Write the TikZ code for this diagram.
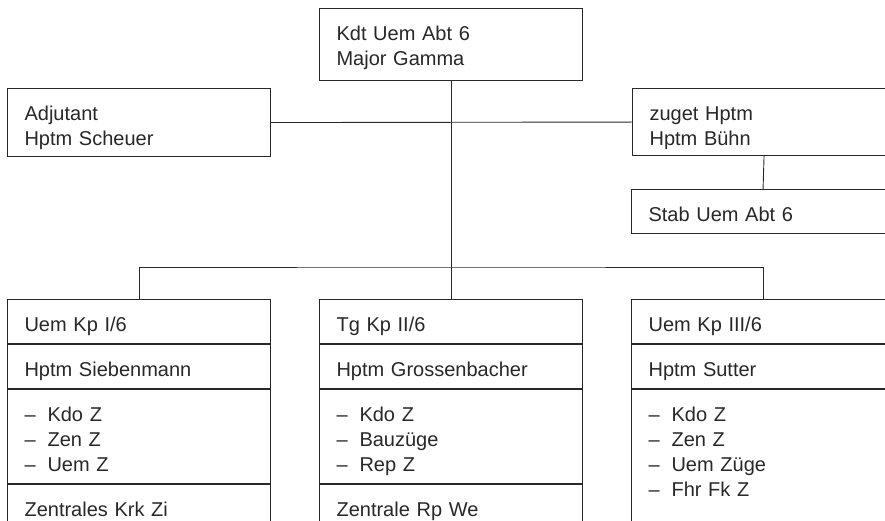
\documentclass[tikz,border=0pt]{standalone}
\usepackage{fontspec}
\setmainfont{Liberation Sans}
\usepackage{tikz}
\usetikzlibrary{positioning}
\definecolor{LineColor}{RGB}{40,40,40}
\newcommand{\dashitem}[1]{\makebox[23pt][l]{--}#1}
\tikzset{
  box/.style={rectangle, draw=LineColor, line width=1.1pt, text=LineColor, text width=229pt, inner xsep=17pt, inner ysep=0pt, text height=32pt, align=left, font=\fontsize{20}{25}\selectfont},
  row/.style={box, text depth=#1},
  row/.default=12pt,
  link/.style={draw=LineColor, line width=0.9pt}
}

\begin{document}
\begin{tikzpicture}[x=1pt, y=-1pt]
  \useasboundingbox (0,0) rectangle (885,521);
  \fill[white] (0,0) rectangle (885,521);
  \clip (0,0) rectangle (885,521);

  % Commander and staff
  \node[row=40pt, anchor=north west] (kdt) at (319,8) {Kdt Uem Abt 6\\Major Gamma};
  \node[row=36pt, anchor=north west] (adj) at (7,88) {Adjutant\\Hptm Scheuer};
  \node[row=35pt, anchor=north west] (zuget) at (632,88) {zuget Hptm\\Hptm Bühn};
  \node[row, anchor=north west] (stab) at (631,189) {Stab Uem Abt 6};

  % Kp I
  \node[row, anchor=north west] (k1title) at (7,299) {Uem Kp I/6};
  \node[row, below=0pt of k1title] (k1name) {Hptm Siebenmann};
  \node[row=62pt, below=0pt of k1name] (k1list) {\dashitem{Kdo Z}\\\dashitem{Zen Z}\\\dashitem{Uem Z}};
  \node[row=18pt, below=0pt of k1list] (k1site) {Zentrales Krk Zi};

  % Kp II
  \node[row, anchor=north west] (k2title) at (319,299) {Tg Kp II/6};
  \node[row, below=0pt of k2title] (k2name) {Hptm Grossenbacher};
  \node[row=62pt, below=0pt of k2name] (k2list) {\dashitem{Kdo Z}\\\dashitem{Bauzüge}\\\dashitem{Rep Z}};
  \node[row=18pt, below=0pt of k2list] (k2site) {Zentrale Rp We};

  % Kp III
  \node[row, anchor=north west] (k3title) at (631,299) {Uem Kp III/6};
  \node[row, below=0pt of k3title] (k3name) {Hptm Sutter};
  \node[row=118pt, below=0pt of k3name] (k3list) {\dashitem{Kdo Z}\\\dashitem{Zen Z}\\\dashitem{Uem Züge}\\\dashitem{Fhr Fk Z}};

  % Connections
  \coordinate (bus) at (kdt.south |- 0,267);
  \draw[link] (kdt.south) -- (k2title.north);
  \draw[link] (adj.east) -- (zuget.west);
  \draw[link] (zuget.south) -- (stab.north);
  \draw[link] (k1title.north) |- (bus) -| (k3title.north);
\end{tikzpicture}
\end{document}
